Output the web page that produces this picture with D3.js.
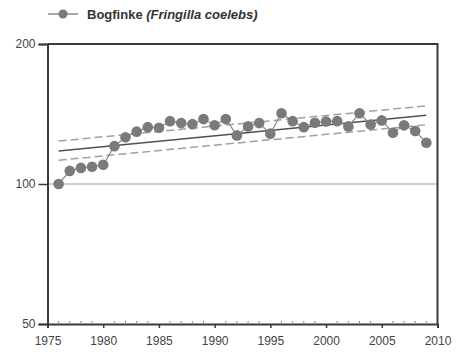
<!DOCTYPE html>
<html><head><meta charset="utf-8">
<script src="https://cdn.jsdelivr.net/npm/d3@7"></script>
<style>body{margin:0;background:#fff}svg{display:block}</style>
</head><body><svg id="c" width="457" height="356"></svg>
<script>
const years = [1976,1977,1978,1979,1980,1981,1982,1983,1984,1985,1986,1987,1988,1989,1990,1991,1992,1993,1994,1995,1996,1997,1998,1999,2000,2001,2002,2003,2004,2005,2006,2007,2008,2009];
const index = [100,106.7,108.3,108.9,110,120.6,126,129.6,132.5,132.1,136.5,135.2,134.5,137.9,133.8,137.9,127.2,133,135.2,128.3,142,136.5,132.5,135.4,136.3,136.5,133,142,134.3,137,128.9,133.7,130,122.7];
const trendYears = [1976,2009];
const trend = [117.8,140.6];
const upper = [123.7,147.2];
const lower = [112.5,134.1];
const xTicks = [1975,1980,1985,1990,1995,2000,2005,2010];
const yTicks = [50,100,200];
const seriesName = "Bogfinke";
const latinName = "(Fringilla coelebs)";

const svg = d3.select("#c");
const x = d3.scaleLinear().domain([1975,2010]).range([47.5,437.5]);
const y = d3.scaleLog().domain([50,200]).range([324,44]);
const font = "Arial, 'Liberation Sans', sans-serif";

// reference line at 100
svg.append("line").attr("x1",x(1975)).attr("x2",x(2010)).attr("y1",y(100)).attr("y2",y(100))
  .attr("stroke","#cfcfcf").attr("stroke-width",2);

// frame top & right
svg.append("path").attr("d",`M${x(1975)},${y(200)}H${x(2010)}V${y(50)}`)
  .attr("fill","none").attr("stroke","#3a3a3a").attr("stroke-width",2);

// x axis
const xa = svg.append("g").attr("transform",`translate(0,${y(50)})`)
  .call(d3.axisBottom(x).tickValues(xTicks).tickFormat(d3.format("d")).tickSize(4).tickPadding(8));
xa.select(".domain").attr("stroke","#3a3a3a").attr("stroke-width",2);
xa.selectAll(".tick line").attr("stroke","#3a3a3a").attr("stroke-width",1.5);
xa.selectAll("text").attr("font-family",font).attr("font-size",12).attr("fill","#444");
// minor ticks
svg.append("g").selectAll("line").data(d3.range(1976,2010).filter(d=>d%5!==0)).join("line")
  .attr("x1",d=>x(d)).attr("x2",d=>x(d)).attr("y1",y(50)-1).attr("y2",y(50)-3)
  .attr("stroke","#888").attr("stroke-width",1);

// y axis
const ya = svg.append("g").attr("transform",`translate(${x(1975)},0)`)
  .call(d3.axisLeft(y).tickValues(yTicks).tickFormat(d3.format("d")).tickSize(9).tickPadding(3));
ya.select(".domain").attr("stroke","#3a3a3a").attr("stroke-width",2);
ya.selectAll(".tick line").attr("stroke","#3a3a3a").attr("stroke-width",1.5);
ya.selectAll("text").attr("font-family",font).attr("font-size",12).attr("fill","#444");

// trend lines
const tl = d3.line().x(d=>x(d[0])).y(d=>y(d[1]));
svg.append("path").attr("d",tl(trendYears.map((t,i)=>[t,upper[i]])))
  .attr("fill","none").attr("stroke","#a0a0a0").attr("stroke-width",1.5).attr("stroke-dasharray","8,4");
svg.append("path").attr("d",tl(trendYears.map((t,i)=>[t,lower[i]])))
  .attr("fill","none").attr("stroke","#a0a0a0").attr("stroke-width",1.5).attr("stroke-dasharray","8,4");
svg.append("path").attr("d",tl(trendYears.map((t,i)=>[t,trend[i]])))
  .attr("fill","none").attr("stroke","#505050").attr("stroke-width",1.5);

// series
svg.append("path").attr("d",tl(years.map((t,i)=>[t,index[i]])))
  .attr("fill","none").attr("stroke","#8a8a8a").attr("stroke-width",1.2);
svg.append("g").selectAll("circle").data(years).join("circle")
  .attr("cx",d=>x(d)).attr("cy",(d,i)=>y(index[i])).attr("r",5.3).attr("fill","#7a7a7a");

// legend
svg.append("line").attr("x1",48).attr("x2",78).attr("y1",14).attr("y2",14).attr("stroke","#8a8a8a").attr("stroke-width",1.5);
svg.append("circle").attr("cx",63).attr("cy",14).attr("r",4.5).attr("fill","#7a7a7a");
const lt = svg.append("text").attr("x",87).attr("y",18.5).attr("font-family",font).attr("font-size",13)
  .attr("font-weight","bold").attr("fill","#333");
lt.append("tspan").text(seriesName+" ");
lt.append("tspan").attr("font-style","italic").text(latinName);
</script></body></html>
